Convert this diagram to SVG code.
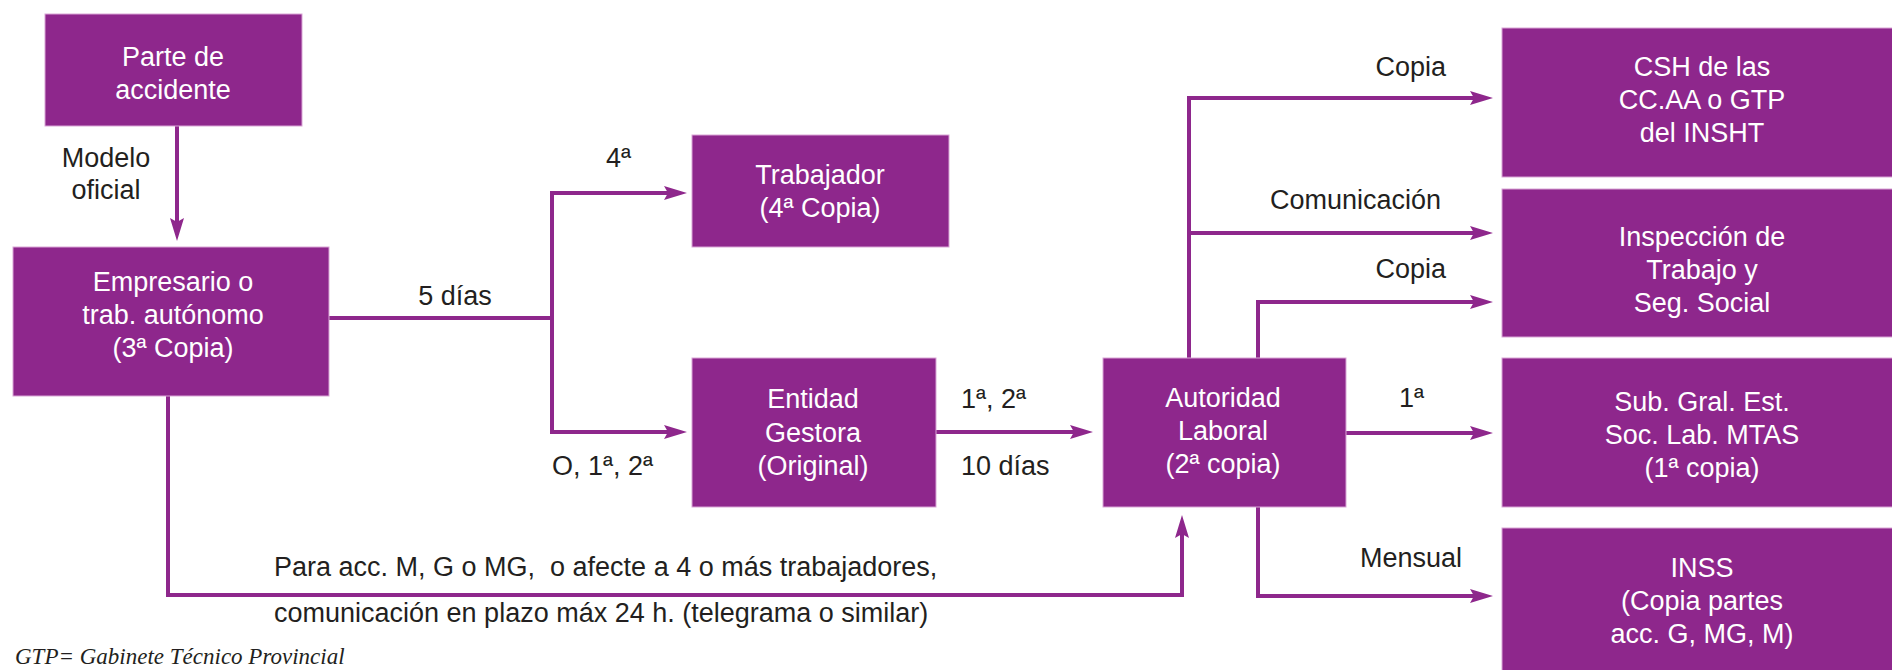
<svg xmlns="http://www.w3.org/2000/svg" width="1892" height="670" viewBox="0 0 1892 670">
  <style>
    .box { fill: #8E278C; stroke: #D9A6D6; stroke-width: 1; }
    .bt { font-family: "Liberation Sans", Arial, sans-serif; font-size: 27px; fill: #FFFFFF; text-anchor: middle; }
    .lbl { font-family: "Liberation Sans", Arial, sans-serif; font-size: 27px; fill: #231F20; }
    .mid { text-anchor: middle; }
    .end { text-anchor: end; }
    .con { fill: none; stroke: #8E278C; stroke-width: 4; stroke-linejoin: miter; }
    .arr { marker-end: url(#ah); }
    .note { font-family: "Liberation Serif", "Times New Roman", serif; font-style: italic; font-size: 23px; fill: #231F20; }
  </style>
  <defs>
    <marker id="ah" viewBox="0 0 23 14" refX="11" refY="7" markerWidth="23" markerHeight="14" markerUnits="userSpaceOnUse" orient="auto">
      <path d="M0,0 L23,7 L0,14 L4,7 Z" fill="#8E278C"/>
    </marker>
  </defs>
  <rect width="1892" height="670" fill="#FFFFFF"/>

  <g id="connectors">
    <path class="con arr" d="M177,126 V229"/>
    <path class="con" d="M329,318 H552"/>
    <path class="con arr" d="M552,318 V193 H675"/>
    <path class="con arr" d="M552,318 V432 H675"/>
    <path class="con arr" d="M936,432 H1081"/>
    <path class="con arr" d="M168,396 V595 H1182 V527"/>
    <path class="con arr" d="M1189,358 V98 H1481"/>
    <path class="con arr" d="M1189,233 H1481"/>
    <path class="con arr" d="M1258,358 V302 H1481"/>
    <path class="con arr" d="M1346,433 H1481"/>
    <path class="con arr" d="M1258,507 V596 H1481"/>
  </g>

  <g id="labels">
    <text class="lbl mid" x="106" y="167">Modelo</text>
    <text class="lbl mid" x="106" y="199">oficial</text>
    <text class="lbl mid" x="455" y="305">5 días</text>
    <text class="lbl" x="606" y="167">4ª</text>
    <text class="lbl" x="552" y="475">O, 1ª, 2ª</text>
    <text class="lbl" x="961" y="408">1ª, 2ª</text>
    <text class="lbl" x="961" y="475">10 días</text>
    <text class="lbl" x="274" y="576" xml:space="preserve" style="white-space:pre">Para acc. M, G o MG,  o afecte a 4 o más trabajadores,</text>
    <text class="lbl" x="274" y="622">comunicación en plazo máx 24 h. (telegrama o similar)</text>
    <text class="lbl end" x="1446" y="76">Copia</text>
    <text class="lbl end" x="1441" y="209">Comunicación</text>
    <text class="lbl end" x="1446" y="278">Copia</text>
    <text class="lbl" x="1399" y="407">1ª</text>
    <text class="lbl end" x="1462" y="567">Mensual</text>
    <text class="note" x="15" y="664">GTP= Gabinete Técnico Provincial</text>
  </g>

  <g id="parte">
    <rect class="box" x="45" y="14" width="257" height="112"/>
    <text class="bt" x="173" y="66">Parte de</text>
    <text class="bt" x="173" y="99">accidente</text>
  </g>
  <g id="empresario">
    <rect class="box" x="13" y="247" width="316" height="149"/>
    <text class="bt" x="173" y="291">Empresario o</text>
    <text class="bt" x="173" y="324">trab. autónomo</text>
    <text class="bt" x="173" y="357">(3ª Copia)</text>
  </g>
  <g id="trabajador">
    <rect class="box" x="692" y="135" width="257" height="112"/>
    <text class="bt" x="820" y="184">Trabajador</text>
    <text class="bt" x="820" y="217">(4ª Copia)</text>
  </g>
  <g id="entidad">
    <rect class="box" x="692" y="358" width="244" height="149"/>
    <text class="bt" x="813" y="408">Entidad</text>
    <text class="bt" x="813" y="442">Gestora</text>
    <text class="bt" x="813" y="475">(Original)</text>
  </g>
  <g id="autoridad">
    <rect class="box" x="1103" y="358" width="243" height="149"/>
    <text class="bt" x="1223" y="407">Autoridad</text>
    <text class="bt" x="1223" y="440">Laboral</text>
    <text class="bt" x="1223" y="473">(2ª copia)</text>
  </g>
  <g id="csh">
    <rect class="box" x="1502" y="28" width="400" height="149"/>
    <text class="bt" x="1702" y="76">CSH de las</text>
    <text class="bt" x="1702" y="109">CC.AA o GTP</text>
    <text class="bt" x="1702" y="142">del INSHT</text>
  </g>
  <g id="inspeccion">
    <rect class="box" x="1502" y="189" width="400" height="148"/>
    <text class="bt" x="1702" y="246">Inspección de</text>
    <text class="bt" x="1702" y="279">Trabajo y</text>
    <text class="bt" x="1702" y="312">Seg. Social</text>
  </g>
  <g id="subgral">
    <rect class="box" x="1502" y="358" width="400" height="149"/>
    <text class="bt" x="1702" y="411">Sub. Gral. Est.</text>
    <text class="bt" x="1702" y="444">Soc. Lab. MTAS</text>
    <text class="bt" x="1702" y="477">(1ª copia)</text>
  </g>
  <g id="inss">
    <rect class="box" x="1502" y="528" width="400" height="160"/>
    <text class="bt" x="1702" y="577">INSS</text>
    <text class="bt" x="1702" y="610">(Copia partes</text>
    <text class="bt" x="1702" y="643">acc. G, MG, M)</text>
  </g>
</svg>
